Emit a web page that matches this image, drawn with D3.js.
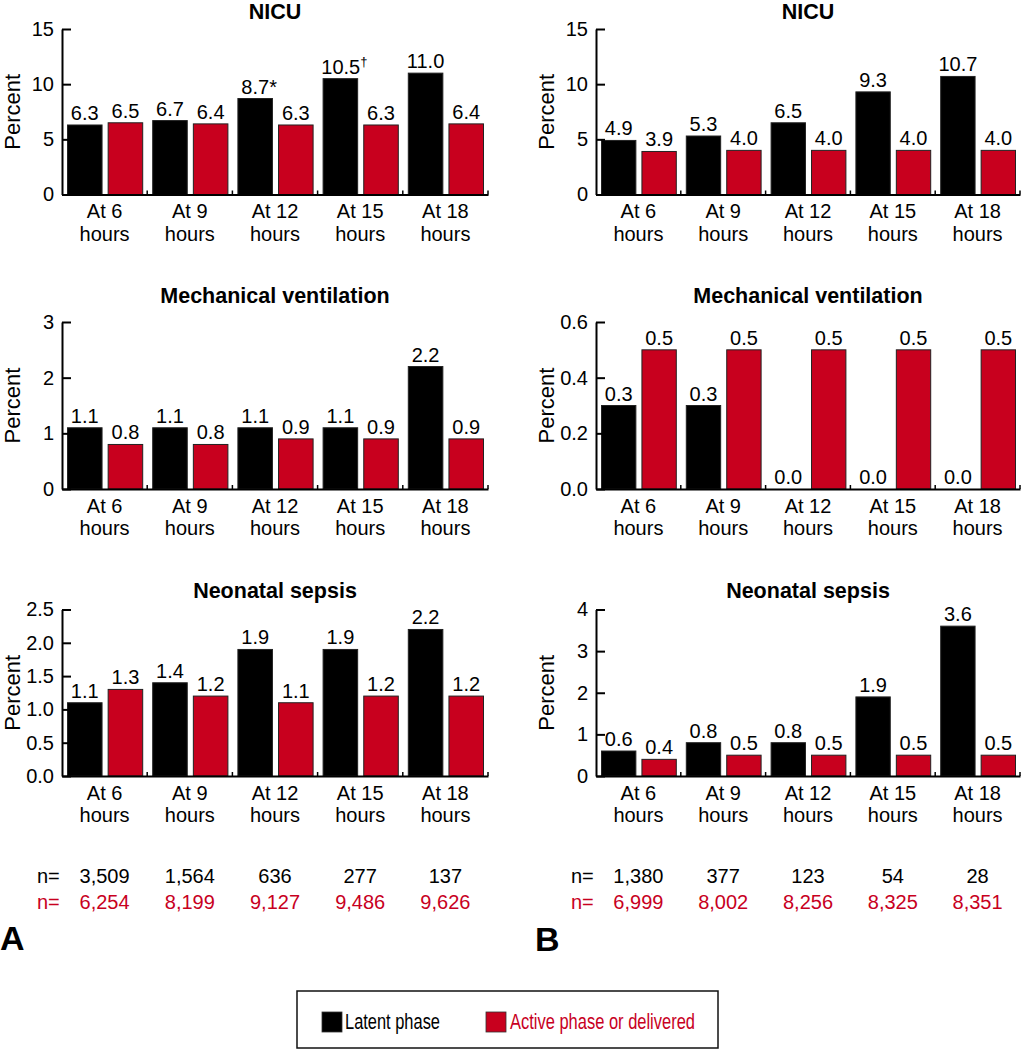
<!DOCTYPE html>
<html><head><meta charset="utf-8">
<script src="https://cdn.jsdelivr.net/npm/d3@7"></script>
<style>
body{margin:0;background:#fff;}
svg{display:block;font-family:"Liberation Sans",Arial,Helvetica,sans-serif;}
</style></head>
<body><svg id="chart" width="1021" height="1050"></svg>
<script>
const categories = ["At 6","At 9","At 12","At 15","At 18"];
const series = ["Latent phase","Active phase or delivered"];

const nicuLatentA = [6.3,6.7,8.7,10.5,11.0];
const nicuActiveA = [6.5,6.4,6.3,6.3,6.4];
const nicuMarksA  = ["","","*","\u2020",""];
const mechLatentA = [1.1,1.1,1.1,1.1,2.2];
const mechActiveA = [0.8,0.8,0.9,0.9,0.9];
const sepsisLatentA = [1.1,1.4,1.9,1.9,2.2];
const sepsisActiveA = [1.3,1.2,1.1,1.2,1.2];

const nicuLatentB = [4.9,5.3,6.5,9.3,10.7];
const nicuActiveB = [3.9,4.0,4.0,4.0,4.0];
const mechLatentB = [0.3,0.3,0.0,0.0,0.0];
const mechActiveB = [0.5,0.5,0.5,0.5,0.5];
const sepsisLatentB = [0.6,0.8,0.8,1.9,3.6];
const sepsisActiveB = [0.4,0.5,0.5,0.5,0.5];

const nLatentA = ["3,509","1,564","636","277","137"];
const nActiveA = ["6,254","8,199","9,127","9,486","9,626"];
const nLatentB = ["1,380","377","123","54","28"];
const nActiveB = ["6,999","8,002","8,256","8,325","8,351"];

const ticksNicu = [0,5,10,15];
const ticksMechA = [0,1,2,3];
const ticksSepsisA = [0,0.5,1.0,1.5,2.0,2.5];
const ticksMechB = [0,0.2,0.4,0.6];
const ticksSepsisB = [0,1,2,3,4];

const BLACK = "#000000", RED = "#c8001e";
const svg = d3.select("#chart");
const FONT = 20;

const cols = [{x0:62,x1:488,label:"A",nL:nLatentA,nA:nActiveA,lab:[0,950]},
              {x0:596,x1:1020,label:"B",nL:nLatentB,nA:nActiveB,lab:[535,951]}];
const rows = [{top:29,bot:194.5,title:19},{top:322,bot:489,title:303},{top:609.5,bot:776,title:598}];

const panels = [
 {c:0,r:0,title:"NICU",lat:nicuLatentA,act:nicuActiveA,ticks:ticksNicu,fmt:d3.format("d"),marks:nicuMarksA},
 {c:0,r:1,title:"Mechanical ventilation",lat:mechLatentA,act:mechActiveA,ticks:ticksMechA,fmt:d3.format("d")},
 {c:0,r:2,title:"Neonatal sepsis",lat:sepsisLatentA,act:sepsisActiveA,ticks:ticksSepsisA,fmt:d3.format(".1f")},
 {c:1,r:0,title:"NICU",lat:nicuLatentB,act:nicuActiveB,ticks:ticksNicu,fmt:d3.format("d")},
 {c:1,r:1,title:"Mechanical ventilation",lat:mechLatentB,act:mechActiveB,ticks:ticksMechB,fmt:d3.format(".1f")},
 {c:1,r:2,title:"Neonatal sepsis",lat:sepsisLatentB,act:sepsisActiveB,ticks:ticksSepsisB,fmt:d3.format("d")}
];

panels.forEach(p=>{
  const col = cols[p.c], row = rows[p.r];
  const x = d3.scaleBand().domain(categories).range([col.x0,col.x1]).padding(0);
  const xi = d3.scaleBand().domain(series).range([5.5, x.bandwidth()-4.5]).paddingInner(0.15);
  const y = d3.scaleLinear().domain([0,d3.max(p.ticks)]).range([row.bot,row.top]);
  const g = svg.append("g");

  g.append("text").attr("x",(col.x0+col.x1)/2).attr("y",row.title)
    .attr("text-anchor","middle").attr("font-weight","bold").attr("font-size",21.5).text(p.title);
  g.append("text").attr("transform",`translate(${col.x0-50},${(row.top+row.bot)/2}) rotate(-90)`)
    .attr("text-anchor","middle").attr("dominant-baseline","central").attr("font-size",22).text("Percent");

  const data = categories.map((c,i)=>({c,i,vals:[{s:series[0],v:p.lat[i],col:BLACK,m:p.marks?p.marks[i]:""},{s:series[1],v:p.act[i],col:RED,m:""}]}));
  const grp = g.selectAll("g.grp").data(data).join("g").attr("transform",d=>`translate(${x(d.c)},0)`);
  grp.selectAll("rect").data(d=>d.vals).join("rect")
    .attr("x",d=>xi(d.s)).attr("width",xi.bandwidth())
    .attr("y",d=>y(d.v)).attr("height",d=>y(0)-y(d.v))
    .attr("fill",d=>d.col).attr("stroke","#222").attr("stroke-width",1);
  const lbl = grp.selectAll("text.val").data(d=>d.vals).join("text").attr("class","val")
    .attr("x",d=>xi(d.s)+xi.bandwidth()/2 + (d.m?4:0)).attr("y",d=>y(d.v)-5)
    .attr("text-anchor","middle").attr("font-size",FONT);
  lbl.append("tspan").text(d=>d3.format(".1f")(d.v));
  lbl.filter(d=>d.m==="*").append("tspan").text("*");
  lbl.filter(d=>d.m==="\u2020").append("tspan").attr("font-size",13).attr("dy",-8).text("\u2020");

  const ya = d3.axisLeft(y).tickValues(p.ticks).tickFormat(p.fmt).tickSizeInner(-9).tickSizeOuter(0).tickPadding(8);
  const yg = g.append("g").attr("transform",`translate(${col.x0},0)`).call(ya);
  yg.select(".domain").attr("stroke","#000").attr("stroke-width",2);
  yg.selectAll(".tick line").attr("stroke","#000").attr("stroke-width",2);
  yg.selectAll(".tick text").attr("font-size",FONT).attr("font-family","inherit").attr("fill","#000");

  const xa = d3.axisBottom(x).tickSize(0).tickFormat("");
  const xg = g.append("g").attr("transform",`translate(0,${row.bot})`).call(xa);
  xg.select(".domain").attr("stroke","#000").attr("stroke-width",2);
  g.selectAll("line.sep").data(categories).join("line").attr("class","sep")
    .attr("x1",d=>x(d)+x.bandwidth()).attr("x2",d=>x(d)+x.bandwidth())
    .attr("y1",row.bot).attr("y2",row.bot-4).attr("stroke","#000").attr("stroke-width",1.5);
  const cl = g.selectAll("text.cat").data(categories).join("text").attr("class","cat")
    .attr("text-anchor","middle").attr("font-size",FONT);
  cl.append("tspan").attr("x",d=>x(d)+x.bandwidth()/2).attr("y",row.bot+23.5).text(d=>d);
  cl.append("tspan").attr("x",d=>x(d)+x.bandwidth()/2).attr("y",row.bot+46).text("hours");

  if(p.r===2){
    const nx = (i)=>x(categories[i])+x.bandwidth()/2;
    g.append("text").attr("x",col.x0-25).attr("y",883).attr("font-size",FONT).text("n=");
    g.append("text").attr("x",col.x0-25).attr("y",909).attr("font-size",FONT).attr("fill",RED).text("n=");
    g.selectAll("text.nl").data(col.nL).join("text").attr("class","nl")
      .attr("x",(d,i)=>nx(i)).attr("y",883).attr("text-anchor","middle").attr("font-size",FONT).text(d=>d);
    g.selectAll("text.na").data(col.nA).join("text").attr("class","na")
      .attr("x",(d,i)=>nx(i)).attr("y",909).attr("text-anchor","middle").attr("font-size",FONT).attr("fill",RED).text(d=>d);
    g.append("text").attr("x",col.lab[0]).attr("y",col.lab[1]).attr("font-size",34).attr("font-weight","bold").text(col.label);
  }
});

const lg = svg.append("g");
lg.append("rect").attr("x",297).attr("y",991).attr("width",421).attr("height",57)
  .attr("fill","none").attr("stroke","#111").attr("stroke-width",1.5);
const legItems = [{s:series[0],col:BLACK,x:322,tx:345,len:95,tc:"#000"},{s:series[1],col:RED,x:486,tx:510,len:185,tc:RED}];
legItems.forEach(it=>{
  lg.append("rect").attr("x",it.x).attr("y",1012).attr("width",20).attr("height",20).attr("fill",it.col).attr("stroke","#333").attr("stroke-width",0.8);
  lg.append("text").attr("x",it.tx).attr("y",1029).attr("font-size",21.5).attr("fill",it.tc)
    .attr("textLength",it.len).attr("lengthAdjust","spacingAndGlyphs").text(it.s);
});
</script></body></html>
